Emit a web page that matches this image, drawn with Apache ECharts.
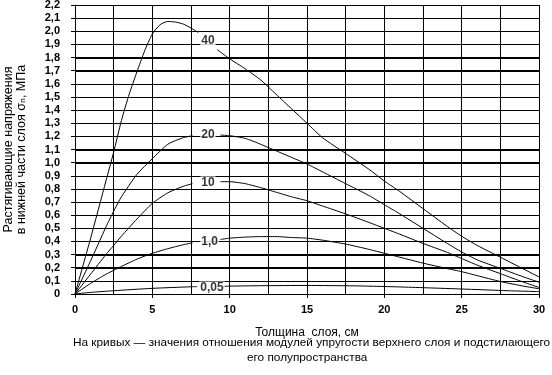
<!DOCTYPE html>
<html>
<head>
<meta charset="utf-8">
<script src="https://cdn.jsdelivr.net/npm/echarts@6/dist/echarts.min.js"></script>
<style>html,body{margin:0;padding:0;background:#fff}#c{width:552px;height:375px}</style>
</head>
<body>
<div id="c"></div>
<script>
// ---- data (x = layer thickness, cm; y = stress, MPa); null = gap under label
var curve40 = [[0,0],[1,0.42],[2,0.86],[2.5,1.08],[3,1.32],[3.5,1.52],[4,1.69],[4.5,1.85],[5,1.98],[5.5,2.05],[6,2.075],[6.5,2.07],[7,2.055],[7.5,2.025],[7.97,1.99],null,[9.2,1.86],[10,1.79],[11,1.715],[12,1.63],[13,1.52],[14,1.41],[15,1.30],[16,1.19],[17.5,1.07],[19,0.95],[20,0.86],[21,0.78],[22.5,0.65],[24,0.52],[25,0.44],[26,0.37],[27.5,0.28],[29,0.19],[30,0.13]];
var curve20 = [[0,0],[1,0.25],[2,0.51],[2.5,0.63],[3,0.74],[4,0.91],[5,1.03],[6,1.14],[7,1.19],[7.6,1.205],null,[9.4,1.21],[10,1.205],[11,1.185],[12,1.14],[13,1.09],[14,1.04],[15,0.99],[16,0.93],[17.5,0.84],[19,0.75],[20,0.68],[21,0.61],[22.5,0.50],[24,0.39],[25,0.32],[26,0.26],[27.5,0.195],[29,0.13],[30,0.09]];
var curve10 = [[0,0],[1,0.15],[2,0.30],[2.5,0.37],[3,0.44],[4,0.57],[5,0.69],[6,0.77],[7,0.82],[7.6,0.84],null,[9.4,0.855],[10,0.855],[11,0.84],[12,0.81],[13,0.775],[14,0.74],[15,0.71],[16,0.67],[17.5,0.61],[19,0.545],[20,0.50],[21,0.455],[22.5,0.385],[24,0.32],[25,0.27],[26,0.22],[27.5,0.155],[29,0.09],[30,0.05]];
var curve1 = [[0,0],[1,0.08],[2,0.15],[2.5,0.18],[3,0.21],[4,0.265],[5,0.31],[6,0.345],[7,0.375],[7.6,0.39],null,[9.4,0.415],[10,0.425],[11,0.433],[12,0.437],[13,0.437],[14,0.43],[15,0.425],[16,0.41],[17.5,0.38],[19,0.34],[20,0.31],[21,0.28],[22.5,0.235],[24,0.195],[25,0.17],[26,0.14],[27.5,0.095],[29,0.06],[30,0.04]];
var curve005 = [[0,0],[1,0.012],[2.5,0.025],[5,0.043],[7.5,0.055],[7.9,0.056],null,[9.6,0.058],[10,0.06],[12,0.063],[15,0.065],[18,0.062],[20,0.057],[22,0.05],[25,0.038],[28,0.025],[30,0.018]];
var curveNames = ['40','20','10','1,0','0,05'];
var labelX = [8.6, 8.6, 8.6, 8.7, 8.85];
var labelY = [1.925, 1.21, 0.85, 0.40, 0.05];
var yGridValues = [0.1,0.2,0.3,0.4,0.5,0.6,0.7,0.8,0.9,1.0,1.1,1.2,1.3,1.4,1.5,1.6,1.7,1.8,1.9,2.0,2.1,2.2];

var xName = 'Толщина  слоя, см';
var yName = 'Растягивающие напряжения\nв нижней части слоя σₙ, МПа';
var note1 = 'На кривых — значения отношения модулей упругости верхнего слоя и подстилающего';
var note2 = 'его полупространства';

var FONT = '"Liberation Sans", Arial, "DejaVu Sans", sans-serif';
var chart = echarts.init(document.getElementById('c'));
var curves = [curve40, curve20, curve10, curve1, curve005];
var series = [{
  type: 'custom', silent: true, z: 1,
  data: yGridValues.map(function (v) { return [v]; }),
  encode: {y: 0},
  renderItem: function (params, api) {
    var a = api.coord([0, api.value(0)]), b = api.coord([30, api.value(0)]);
    var y = Math.round(a[1]) + 0.5;
    return {type: 'line', shape: {x1: a[0], y1: y, x2: b[0], y2: y}, style: {stroke: '#000', lineWidth: 1}};
  }
}];
curves.forEach(function (d, i) {
  series.push({type: 'line', name: curveNames[i], data: d, showSymbol: false,
    connectNulls: false, smooth: 0.2, lineStyle: {color: '#000', width: 1}, itemStyle: {color: '#000'}, z: 3});
});
series.push({
  type: 'scatter', symbolSize: 0, z: 5, silent: true,
  data: curveNames.map(function (n, i) { return [labelX[i], labelY[i], n]; }),
  label: {show: true, position: 'inside', formatter: function (p) { return p.value[2]; },
    color: '#000', fontFamily: FONT, fontWeight: 'bold', fontSize: 12,
    backgroundColor: '#fff', padding: [0, 1, 0, 1]}
});
chart.setOption({
  animation: false,
  grid: {left: 75, right: 13, top: 5, bottom: 81, outerBoundsMode: 'none'},
  xAxis: {
    type: 'value', min: 0, max: 30, interval: 5,
    name: xName, nameLocation: 'middle', nameGap: 33,
    nameTextStyle: {color: '#000', fontFamily: FONT, fontSize: 12},
    axisLine: {show: true, lineStyle: {color: '#000', width: 1}},
    axisTick: {show: true, length: 4, lineStyle: {color: '#000', width: 1}},
    axisLabel: {color: '#000', fontFamily: FONT, fontWeight: 'bold', fontSize: 11, margin: 10},
    splitLine: {show: true, lineStyle: {color: '#000', width: 1}},
    minorTick: {show: false, splitNumber: 2},
    minorSplitLine: {show: true, lineStyle: {color: '#000', width: 1}}
  },
  yAxis: {
    type: 'value', min: 0, max: 2.2, interval: 0.1,
    name: yName, nameLocation: 'middle', nameGap: 47, nameRotate: 90,
    nameTextStyle: {color: '#000', fontFamily: FONT, fontSize: 12.5, lineHeight: 13},
    axisLine: {show: true, lineStyle: {color: '#000', width: 1}},
    axisTick: {show: true, length: 4, lineStyle: {color: '#000', width: 1}},
    axisLabel: {color: '#000', fontFamily: FONT, fontWeight: 'bold', fontSize: 11, margin: 15,
      formatter: function (v) { return v === 0 ? '0' : v.toFixed(1).replace('.', ','); }},
    splitLine: {show: true, lineStyle: {color: '#000', width: 1}}
  },
  graphic: [
    {type: 'text', left: 73, top: 337, style: {text: note1, fill: '#000', font: '11.8px ' + FONT}},
    {type: 'text', left: 247, top: 352, style: {text: note2, fill: '#000', font: '11.8px ' + FONT}}
  ],
  series: series
});
</script>
</body>
</html>
